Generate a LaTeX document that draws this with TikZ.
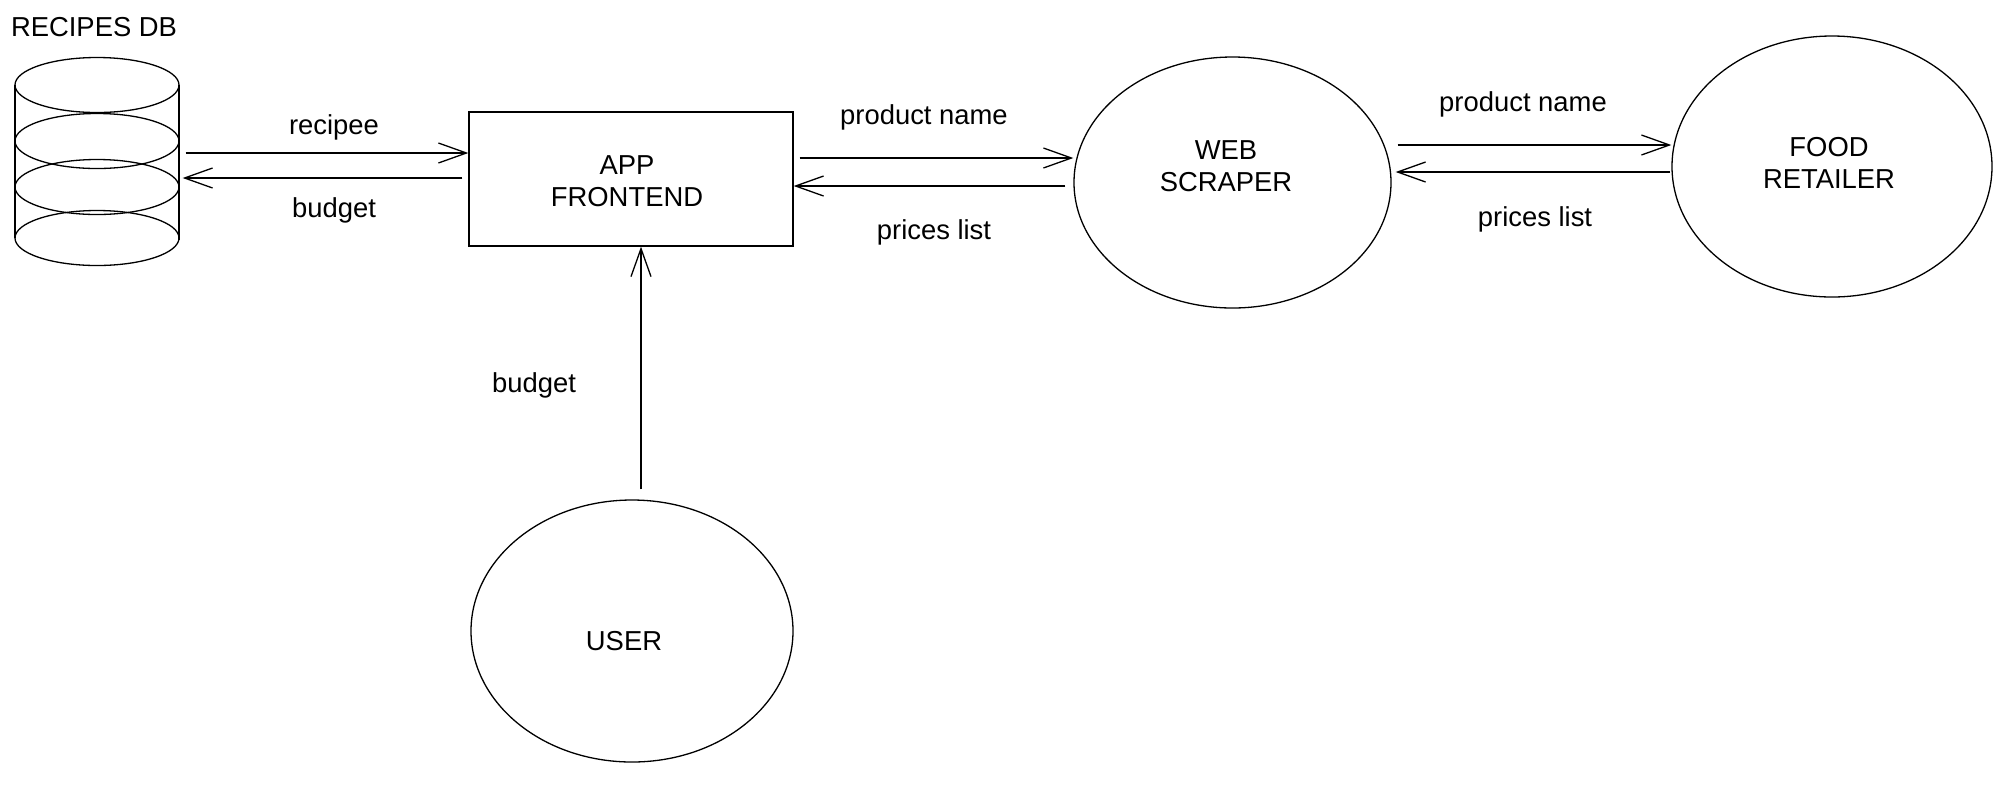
\documentclass[tikz,border=0pt]{standalone}
\usepackage{fontspec}
\setmainfont{Liberation Sans}
\usetikzlibrary{arrows.meta,calc,shapes.geometric}
\begin{document}
\begin{tikzpicture}[x=0.5pt,y=-0.5pt,
  line width=0.65pt,
  every node/.style={font=\fontsize{13.7}{16}\selectfont, inner sep=0pt},
  txt/.style={align=center},
  arr/.style={draw, -{Straight Barb[length=14pt,width=10pt]}},
  boxnode/.style={draw, rectangle, minimum width=162pt, minimum height=67pt},
  ellnode/.style={draw, ellipse},
  dbell/.style={draw}]
\useasboundingbox (0,0) rectangle (1998,789);

% Recipes DB cylinder
\node[rectangle, minimum width=82pt, minimum height=104.5pt] (db) at (97,162.5) {};
\draw (15,85) -- (15,238);
\draw (179,85) -- (179,240);
\foreach \yy in {85,141,187,238}{
  \draw (97,\yy) ellipse [x radius=82, y radius=27.5];
}
\node[txt] (dbt) at (94,27) {RECIPES DB};

% Frontend
\node[boxnode] (fe) at (631,179) {};
\node[txt] (fet) at (627,181.5) {APP\\FRONTEND};

% Web scraper
\node[ellnode, minimum width=158.5pt, minimum height=125.5pt] (ws) at (1232.5,182.5) {};
\node[txt] (wst) at (1226,166) {WEB\\SCRAPER};

% Food retailer
\node[ellnode, minimum width=160pt, minimum height=130.5pt] (fr) at (1832,166.5) {};
\node[txt] (frt) at (1829,163) {FOOD\\RETAILER};

% User
\node[ellnode, minimum width=161pt, minimum height=131pt] (us) at (632,631) {};
\node[txt] (ust) at (624,641) {USER};

% Connectors
\draw[arr] ($(db.east |- 0,153)+(6,0)$) -- (fe.west |- 0,153);
\draw[arr] ($(fe.west |- 0,178)+(-6,0)$) -- ($(db.east |- 0,178)+(3,0)$);
\draw[arr] ($(fe.east |- 0,158)+(6,0)$) -- (ws.west |- 0,158);
\draw[arr] ($(ws.west |- 0,186)+(-8,0)$) -- (fe.east |- 0,186);
\draw[arr] ($(ws.east |- 0,145)+(6,0)$) -- (fr.west |- 0,145);
\draw[arr] ($(fr.west |- 0,172)+(-1,0)$) -- ($(ws.east |- 0,172)+(4,0)$);
\draw[arr] ($(us.north)+(9,-10)$) -- ($(fe.south)+(10,0)$);

% Labels
\node (l1) at (334,127) {recipee};
\node (l2) at (334,210) {budget};
\node (l3) at (924,117) {product name};
\node (l4) at (934,232) {prices list};
\node (l5) at (1523,104) {product name};
\node (l6) at (1535,219) {prices list};
\node (l7) at (534,385) {budget};
\end{tikzpicture}
\end{document}
